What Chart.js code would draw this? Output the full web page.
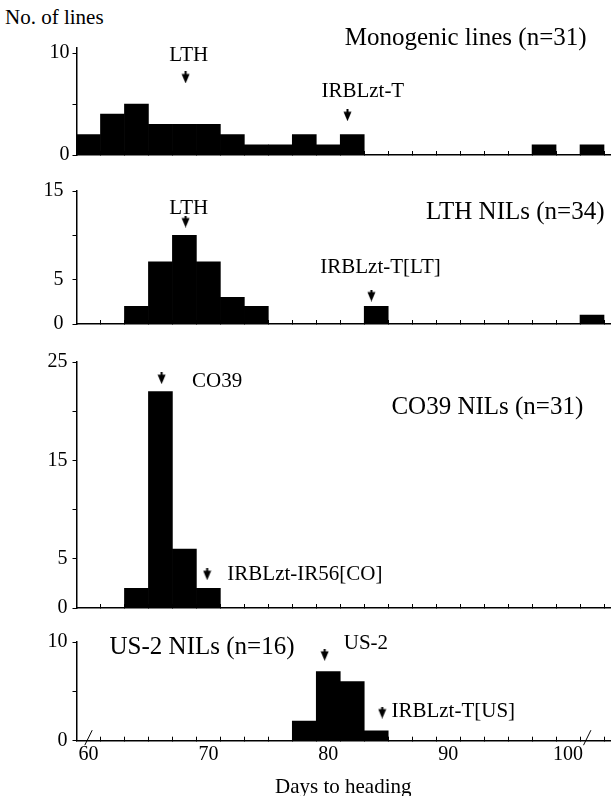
<!DOCTYPE html>
<html>
<head>
<meta charset="utf-8">
<script src="https://cdn.jsdelivr.net/npm/chart.js@4.4.1/dist/chart.umd.min.js"></script>
<style>
html,body{margin:0;padding:0;background:#fff;overflow:hidden;width:616px;height:796px;}
canvas{position:absolute;left:0;}
#ylab{position:absolute;left:5px;top:5px;font:21px "Liberation Serif";color:#000;white-space:nowrap;}
</style>
</head>
<body>
<div id="ylab">No. of lines</div>
<canvas id="c1" width="616" height="170" style="top:0px"></canvas>
<canvas id="c2" width="616" height="175" style="top:170px"></canvas>
<canvas id="c3" width="616" height="280" style="top:345px"></canvas>
<canvas id="c4" width="616" height="180" style="top:625px"></canvas>
<script>
// ---------- DATA ----------
// 2-day bins, centred on even days to heading
const binCenters = [60,62,64,66,68,70,72,74,76,78,80,82,84,86,88,90,92,94,96,98,100,102];
const monogenicCounts = [2,4,5,3,3,3,2,1,1,2,1,2,0,0,0,0,0,0,0,1,0,1];   // n=31
const lthNilCounts    = [0,0,2,7,10,7,3,2,0,0,0,0,2,0,0,0,0,0,0,0,0,1];  // n=34
const co39NilCounts   = [0,0,2,22,6,2,0,0,0,0,0,0,0,0,0,0,0,0,0,0,0,0];  // n=31
const us2NilCounts    = [0,0,0,0,0,0,0,0,0,2,7,6,1,0,0,0,0,0,0,0,0,0];   // n=16

// x-axis tick marks (bin boundaries) and labelled values
const xTickMarks  = [59,61,63,65,67,69,71,73,75,77,79,81,83,85,87,89,91,93,95,97,99,101,103];
const xTickLabels = [60,70,80,90,100];

// y-axis ticks / labels per panel
const yTicks1 = [0,5,10],            yLabels1 = [0,10];
const yTicks2 = [0,5,10,15],         yLabels2 = [0,5,15];
const yTicks3 = [0,5,10,15,20,25],   yLabels3 = [0,5,15,25];
const yTicks4 = [0,5,10],            yLabels4 = [0,10];

// parental heading dates marked by arrows (day)
const arrows1 = [68.1, 81.6];
const arrows2 = [68.1, 83.6];
const arrows3 = [66.1, 69.9];
const arrows4 = [79.7, 84.5];

// ---------- DRAWING ----------
Chart.defaults.font.family = '"Liberation Serif", "Times New Roman", serif';
Chart.defaults.color = '#000';

function arrowImage() {
  const c = document.createElement('canvas');
  c.width = 9; c.height = 12;
  const g = c.getContext('2d');
  g.fillStyle = '#000';
  g.fillRect(3.5, 0, 2, 3);
  g.beginPath();
  g.moveTo(0.5, 2.5); g.lineTo(8.5, 2.5); g.lineTo(4.5, 12); g.closePath();
  g.fill();
  return c;
}
const ARROW = arrowImage();

const annotPlugin = {
  id: 'annot',
  afterDraw(chart, args, opts) {
    const ctx = chart.ctx, x = chart.scales.x, y = chart.scales.y;
    ctx.save();
    ctx.fillStyle = '#000';
    ctx.textBaseline = 'middle';
    (opts.texts || []).forEach(t => {
      ctx.font = t.size + 'px "Liberation Serif"';
      ctx.textAlign = t.align || 'center';
      ctx.fillText(t.text, x.getPixelForValue(t.x), y.getPixelForValue(t.y));
    });
    (opts.breaks || []).forEach(d => {
      const px = x.getPixelForValue(d), py = y.getPixelForValue(0) - 3;
      ctx.beginPath();
      ctx.moveTo(px + 3.7, py - 7.5);
      ctx.lineTo(px - 3.7, py + 7.5);
      ctx.lineWidth = 1;
      ctx.strokeStyle = '#000';
      ctx.stroke();
    });
    ctx.restore();
  }
};

function makePanel(id, counts, arrowDays, arrowLevels, cfg) {
  const scales = {
    x: {
      type: 'linear', min: 59, max: 103.5, offset: false, weight: 0,
      afterBuildTicks: s => { s.ticks = xTickMarks.map(v => ({value: v})); },
      ticks: { display: false },
      grid: { display: true, drawOnChartArea: false, drawTicks: true, tickLength: -4, color: '#000', lineWidth: 1, offset: false },
      border: { display: true, color: '#000', width: 1.5 },
      afterFit: s => { s.height = 0; }
    },
    y: {
      type: 'linear', min: 0, max: cfg.yMax,
      afterBuildTicks: s => { s.ticks = cfg.yTicks.map(v => ({value: v})); },
      ticks: {
        callback: v => cfg.yLabels.includes(v) ? String(v) : '',
        font: { size: 20 }, color: '#000', padding: cfg.yPad
      },
      grid: { drawOnChartArea: false, drawTicks: true, tickLength: 4, color: '#000', lineWidth: 1 },
      border: { display: true, color: '#000', width: 1.5 },
      afterFit: s => { s.width = 76.5; }
    }
  };
  if (cfg.showXLabels) {
    scales.x2 = {
      type: 'linear', position: 'bottom', min: 59, max: 103.5, offset: false, weight: 1,
      afterBuildTicks: s => { s.ticks = xTickLabels.map(v => ({value: v})); },
      ticks: { font: { size: 20 }, color: '#000', padding: -6, maxRotation: 0, autoSkip: false },
      grid: { display: false },
      border: { display: false },
      title: { display: true, text: 'Days to heading', font: { size: 21 }, color: '#000', padding: { top: 0, bottom: 5 } },
      afterFit: s => { s.height = 64.3; }
    };
  }
  return new Chart(document.getElementById(id), {
    type: 'bar',
    data: {
      datasets: [
        {
          type: 'bar',
          data: binCenters.map((d, i) => ({x: d, y: counts[i]})),
          backgroundColor: '#000', borderWidth: 0,
          categoryPercentage: 1, barPercentage: 1
        },
        {
          type: 'scatter',
          data: arrowDays.map((d, i) => ({x: d, y: arrowLevels[i]})),
          pointStyle: ARROW, pointRadius: 5,
          backgroundColor: '#000', borderColor: '#000'
        }
      ]
    },
    options: {
      responsive: false, animation: false, devicePixelRatio: 1,
      layout: { padding: cfg.padding },
      plugins: {
        legend: { display: false }, tooltip: { enabled: false }, title: { display: false },
        annot: { texts: cfg.texts, breaks: cfg.breaks || [] }
      },
      scales
    },
    plugins: [annotPlugin]
  });
}

makePanel('c1', monogenicCounts, arrows1, [7.6, 3.9], {
  yMax: 10.5, yTicks: yTicks1, yLabels: yLabels1, yPad: 3,
  padding: { top: 47.9, bottom: 15, left: 0, right: 0 },
  texts: [
    { text: 'Monogenic lines (n=31)', x: 91.46, y: 11.47, size: 25 },
    { text: 'LTH', x: 68.36, y: 9.8, size: 21 },
    { text: 'IRBLzt-T', x: 82.88, y: 6.18, size: 21 }
  ]
});

makePanel('c2', lthNilCounts, arrows2, [11.56, 3.21], {
  yMax: 15, yTicks: yTicks2, yLabels: yLabels2, yPad: 9,
  padding: { top: 10, bottom: 12.3, left: 0, right: 0 },
  texts: [
    { text: 'LTH NILs (n=34)', x: 95.6, y: 12.54, size: 25 },
    { text: 'LTH', x: 68.36, y: 13.0, size: 21 },
    { text: 'IRBLzt-T[LT]', x: 84.36, y: 6.36, size: 21 }
  ]
});

makePanel('c3', co39NilCounts, arrows3, [23.36, 3.43], {
  yMax: 25, yTicks: yTicks3, yLabels: yLabels3, yPad: 5,
  padding: { top: 15, bottom: 10, left: 0, right: 0 },
  texts: [
    { text: 'CO39 NILs (n=31)', x: 93.27, y: 20.4, size: 25 },
    { text: 'CO39', x: 68.64, y: 23.04, size: 21, align: 'left' },
    { text: 'IRBLzt-IR56[CO]', x: 71.58, y: 3.43, size: 21, align: 'left' }
  ]
});

makePanel('c4', us2NilCounts, arrows4, [8.7, 2.85], {
  yMax: 10, yTicks: yTicks4, yLabels: yLabels4, yPad: 5, showXLabels: true,
  padding: { top: 15, bottom: 0, left: 0, right: 0 },
  breaks: [60, 101.6],
  texts: [
    { text: 'US-2 NILs (n=16)', x: 69.47, y: 9.4, size: 25 },
    { text: 'US-2', x: 81.29, y: 9.8, size: 21, align: 'left' },
    { text: 'IRBLzt-T[US]', x: 85.27, y: 2.95, size: 21, align: 'left' }
  ]
});
</script>
</body>
</html>
